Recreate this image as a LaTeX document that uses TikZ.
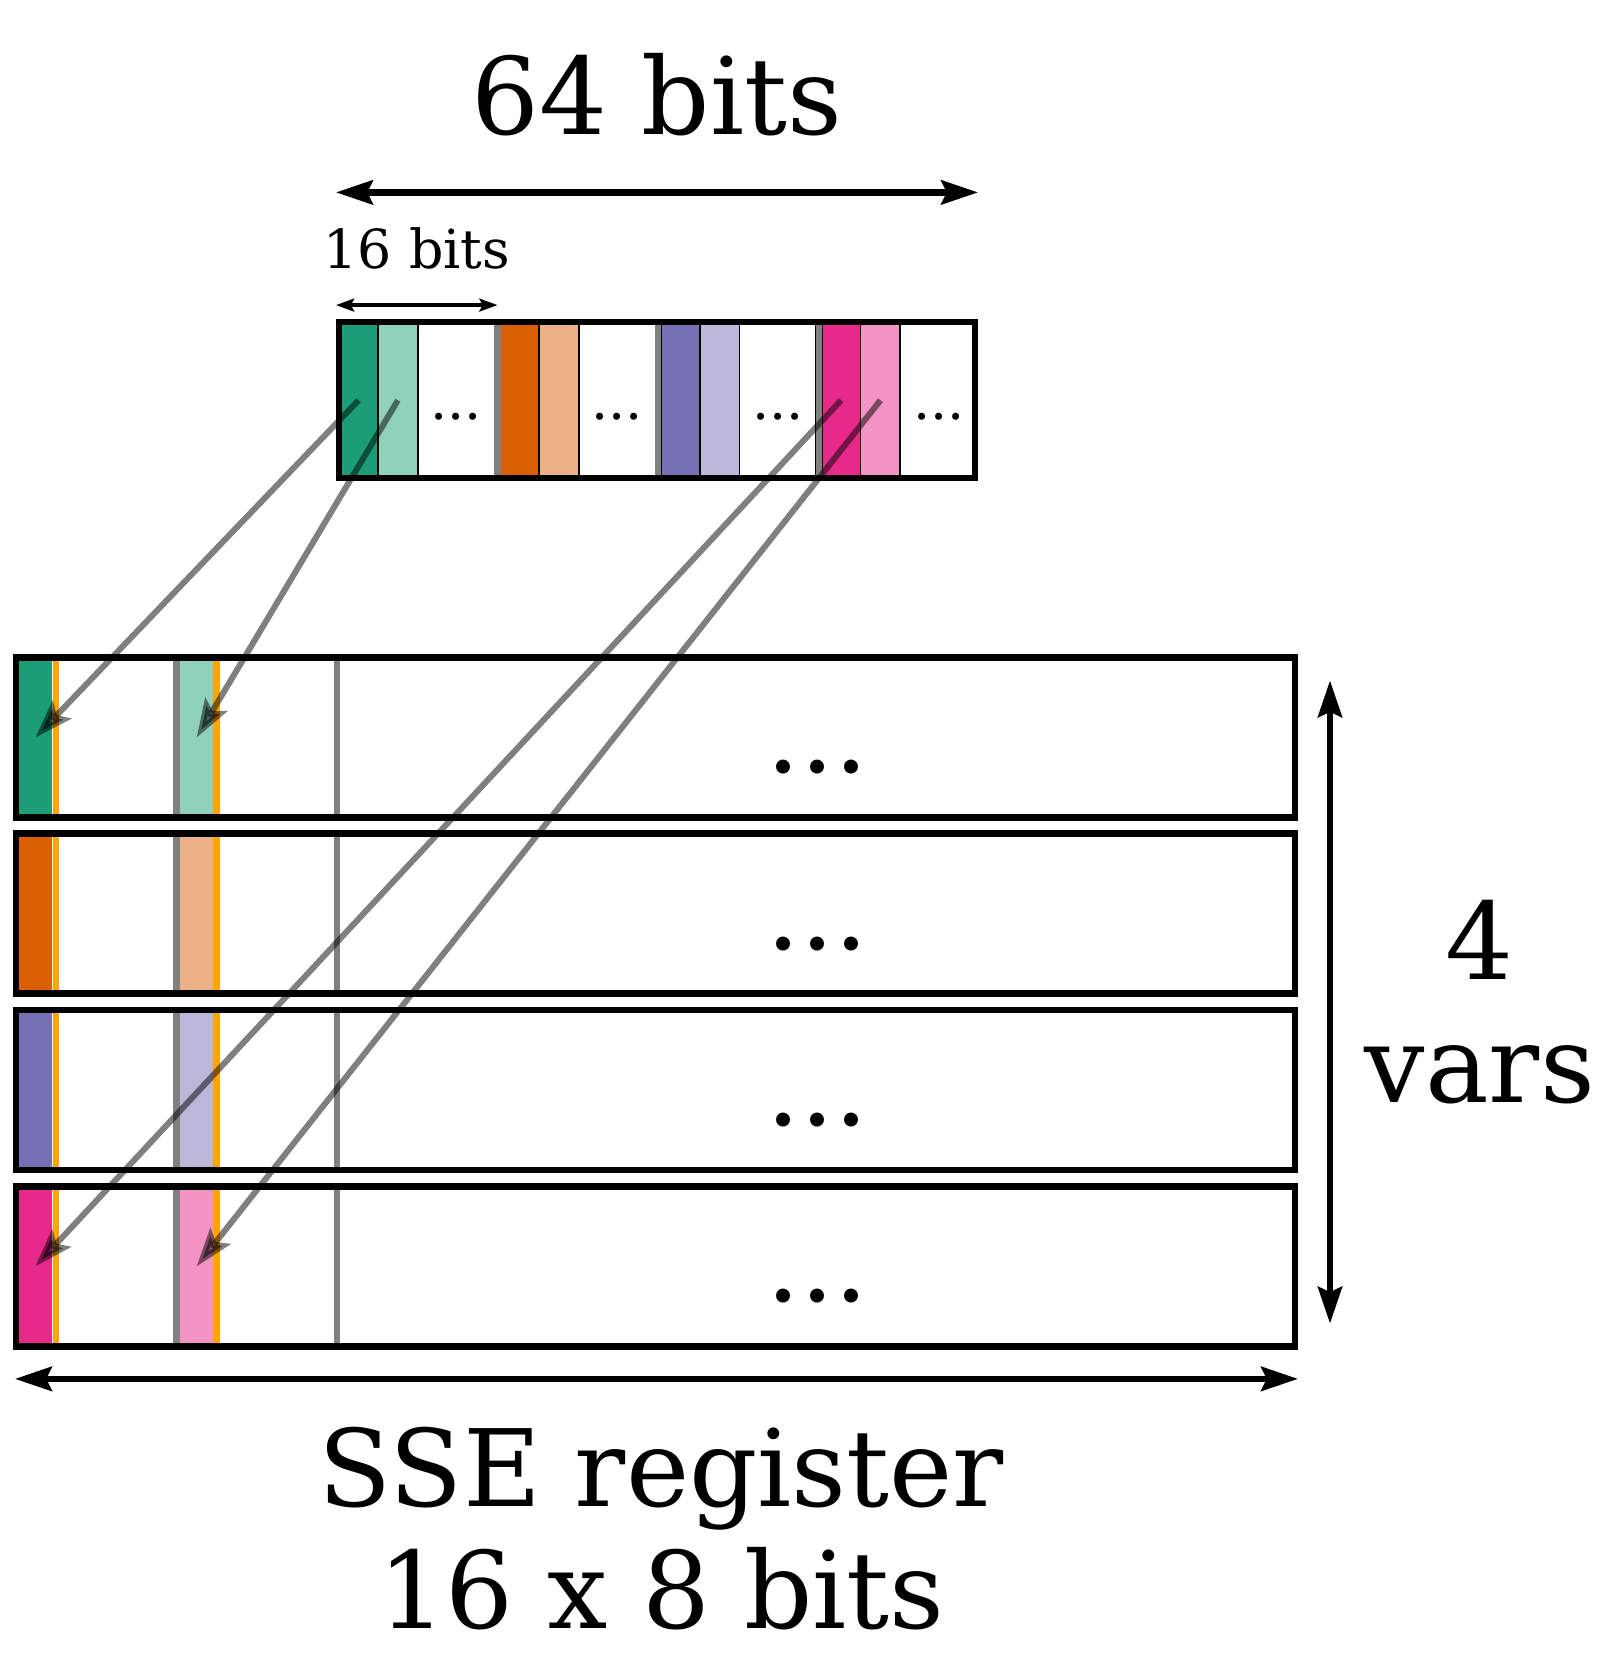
\documentclass[tikz,border=0pt]{standalone}
\usepackage{fontspec}
\setmainfont{DejaVu Serif}
\usepackage{xcolor}
\definecolor{lanegreen}{RGB}{27,158,119}
\definecolor{lanegreenl}{RGB}{143,209,187}
\definecolor{laneorange}{RGB}{217,95,2}
\definecolor{laneorangel}{RGB}{235,176,131}
\definecolor{lanepurple}{RGB}{117,112,179}
\definecolor{lanepurplel}{RGB}{186,183,217}
\definecolor{lanepink}{RGB}{231,41,138}
\definecolor{lanepinkl}{RGB}{243,148,196}
\definecolor{padorange}{RGB}{255,165,0}
\definecolor{sepgray}{RGB}{128,128,128}
\usepackage{tikz}
\usetikzlibrary{arrows.meta}

\begin{document}
\begin{tikzpicture}[
  bigfont/.style={font=\fontsize{28.6}{32.8}\selectfont},
  smallfont/.style={font=\fontsize{14.4}{17}\selectfont},
  topcell/.style={draw=black, line width=0.5pt, inner sep=0pt, minimum height=1.47cm, text height=10.5pt, text depth=0pt, smallfont},
  lanecell/.style={inner sep=0pt, minimum height=1.506cm},
  rowbox/.style={draw=black, line width=1.8pt, inner sep=0pt, minimum width=12.03cm, minimum height=1.506cm},
  dimarrow/.style={line width=1.8pt, {Stealth[length=0.345cm,width=0.225cm,inset=0.05cm]}-{Stealth[length=0.345cm,width=0.225cm,inset=0.05cm]}},
  smallarrow/.style={line width=1.1pt, {Stealth[length=0.17cm,width=0.12cm,inset=0.03cm]}-{Stealth[length=0.17cm,width=0.12cm,inset=0.03cm]}},
  maparrow/.style={line width=1.6pt, black, opacity=0.5, -{Stealth[length=0.36cm,width=0.24cm,inset=0.07cm]}}
]
\useasboundingbox (0,0) rectangle (15.23,15.68);

% 64 bit word
\foreach \g/\ca/\cb in {1/lanegreen/lanegreenl, 2/laneorange/laneorangel, 3/lanepurple/lanepurplel, 4/lanepink/lanepinkl}{
  \pgfmathsetmacro\gx{3.19+1.513*(\g-1)}
  \node[topcell, fill=\ca, minimum width=0.365cm] (ta\g) at (\gx+0.1825,11.915) {};
  \node[topcell, fill=\cb, minimum width=0.375cm] (tb\g) at (\gx+0.5525,11.915) {};
  \node[topcell, fill=white, minimum width=0.723cm] (tc\g) at (\gx+1.1015,11.915) {...};
}
\foreach \g in {1,2,3}{
  \pgfmathsetmacro\gx{3.19+1.513*(\g-1)}
  \fill[sepgray] (\gx+1.455,11.18) rectangle (\gx+1.518,12.65);
}
\node[draw=black, line width=1.6pt, inner sep=0pt, minimum width=5.98cm, minimum height=1.47cm] (word) at (6.18,11.915) {};

% SSE register rows
\foreach \k/\ca/\cb in {1/lanegreen/lanegreenl, 2/laneorange/laneorangel, 3/lanepurple/lanepurplel, 4/lanepink/lanepinkl}{
  \pgfmathsetmacro\ry{8.743-1.658*(\k-1)}
  \node[lanecell, fill=\ca, minimum width=0.31cm] (ra\k) at (0.333,\ry) {};
  \fill[padorange] (0.496,\ry-0.753) rectangle (0.558,\ry+0.753);
  \fill[sepgray] (1.625,\ry-0.753) rectangle (1.695,\ry+0.753);
  \node[lanecell, fill=\cb, minimum width=0.314cm] (rb\k) at (1.85,\ry) {};
  \fill[padorange] (2.007,\ry-0.753) rectangle (2.07,\ry+0.753);
  \fill[sepgray] (3.137,\ry-0.753) rectangle (3.2,\ry+0.753);
  \node[rowbox] (row\k) at (6.165,\ry) {};
  \node[bigfont, inner sep=0pt, text height=19pt, text depth=0pt] (dots\k) at (7.69,\ry) {...};
}

% dimensions
\coordinate (w64) at (3.16,13.87);
\coordinate (e64) at (9.20,13.87);
\coordinate (w16) at (3.16,12.81);
\coordinate (e16) at (4.68,12.81);
\coordinate (nvars) at (12.51,9.28);
\coordinate (svars) at (12.51,3.23);
\coordinate (wsse) at (0.14,2.71);
\coordinate (esse) at (12.21,2.71);
\draw[dimarrow] (w64) -- (e64);
\draw[smallarrow] (w16) -- (e16);
\draw[dimarrow] (nvars) -- (svars);
\draw[dimarrow] (wsse) -- (esse);

\node[bigfont, anchor=base] (lbl64) at (6.18,14.41) {64 bits};
\node[smallfont, anchor=base] (lbl16) at (3.92,13.15) {16 bits};
\node[bigfont, align=center, anchor=base] (lblvars) at (13.92,5.31) {4\\vars};
\node[bigfont, align=center, anchor=base] (lblsse) at (6.22,0.36) {SSE register\\16 x 8 bits};

% lanes moved into the register
\draw[maparrow] (ta1.center) -- (ra1.center);
\draw[maparrow] (tb1.center) -- (rb1.center);
\draw[maparrow] (ta4.center) -- (ra4.center);
\draw[maparrow] (tb4.center) -- (rb4.center);
\end{tikzpicture}
\end{document}
